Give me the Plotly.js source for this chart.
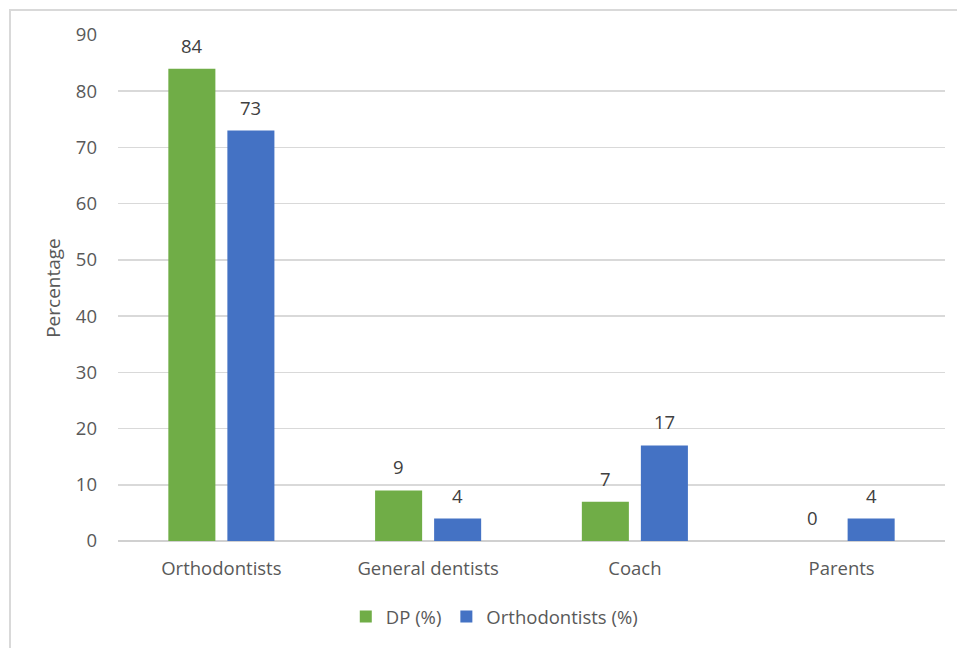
<!DOCTYPE html>
<html>
<head>
<meta charset="utf-8">
<script src="https://cdn.plot.ly/plotly-3.0.1.min.js"></script>
<style>
  html, body { margin: 0; padding: 0; background: #fff; }
  #wrap { position: relative; width: 957px; height: 648px; overflow: hidden; }
  #chart { width: 957px; height: 648px; }
  /* chart-area frame (top and left edges visible) */
  #frame { position: absolute; left: 9px; top: 9px; width: 1000px; height: 1000px;
           border: 2px solid #d9d9d9; pointer-events: none; box-sizing: border-box; }
</style>
</head>
<body>
<div id="wrap">
  <div id="chart"></div>
  <div id="frame"></div>
</div>
<script>
const categories = ["Orthodontists", "General dentists", "Coach", "Parents"];
const dpValues = [84, 9, 7, 0];
const orthodontistValues = [73, 4, 17, 4];
const seriesNames = ["DP (%)", "Orthodontists (%)"];
const seriesColors = ["#70AD47", "#4472C4"];
const yTicks = [0, 10, 20, 30, 40, 50, 60, 70, 80, 90];

const FONT = "'Open Sans', 'Noto Sans', sans-serif";
const W = 957, H = 648;
const margin = { l: 118, r: 12, t: 35, b: 107, autoexpand: false };
const BARGAP = 0.429, BARGROUPGAP = 0.203;

const series = [dpValues, orthodontistValues];

const data = series.map((values, i) => ({
  type: "bar",
  name: seriesNames[i],
  x: categories,
  y: values,
  marker: { color: seriesColors[i] },
  hoverinfo: "x+y"
}));

// value labels above each bar, placed at the bar's own value
const plotWidth = W - margin.l - margin.r;
const slotPx = plotWidth / categories.length * (1 - BARGAP) / series.length;
const annotations = [];
series.forEach((values, i) => {
  const shift = (i - (series.length - 1) / 2) * slotPx;
  values.forEach((v, j) => {
    annotations.push({
      x: categories[j], y: v, xref: "x", yref: "y",
      text: String(v), showarrow: false,
      xanchor: "center", yanchor: "bottom",
      xshift: shift, yshift: 9,
      font: { family: FONT, size: 18.5, color: "#404040" }
    });
  });
});

const layout = {
  width: W,
  height: H,
  margin: margin,
  paper_bgcolor: "#ffffff",
  plot_bgcolor: "#ffffff",
  font: { family: FONT, size: 18.5, color: "#595959" },
  barmode: "group",
  bargap: BARGAP,
  bargroupgap: BARGROUPGAP,
  annotations: annotations,
  showlegend: true,
  legend: {
    orientation: "h",
    x: 0.455,
    xanchor: "center",
    y: -0.15,
    yanchor: "middle",
    itemwidth: 30,
    font: { family: FONT, size: 18.5, color: "#595959" },
    traceorder: "normal"
  },
  xaxis: {
    type: "category",
    showgrid: false,
    showline: false,
    zeroline: false,
    ticks: "",
    ticklabelstandoff: 14,
    tickfont: { family: FONT, size: 18.5, color: "#595959" }
  },
  yaxis: {
    range: [0, 90],
    tickvals: yTicks,
    ticktext: yTicks.map(String),
    showgrid: true,
    gridcolor: "#d9d9d9",
    gridwidth: 1.5,
    zeroline: true,
    zerolinecolor: "#d0d0d0",
    zerolinewidth: 2,
    showline: false,
    ticks: "",
    ticklabelstandoff: 20,
    tickfont: { family: FONT, size: 18.5, color: "#595959" },
    title: {
      text: "Percentage",
      standoff: 10,
      font: { family: FONT, size: 19, color: "#595959" }
    }
  }
};

Plotly.newPlot("chart", data, layout, { displayModeBar: false, staticPlot: true });
</script>
</body>
</html>
